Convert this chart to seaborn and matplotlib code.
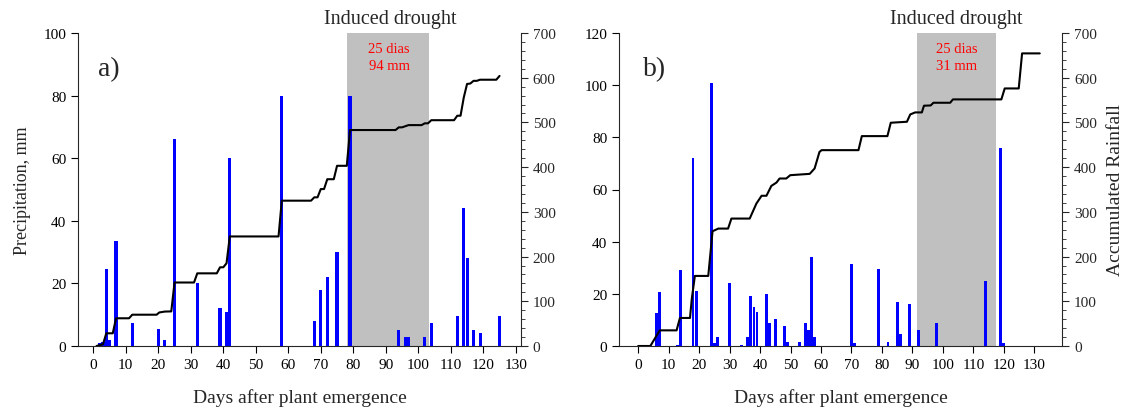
import matplotlib
matplotlib.use("Agg")
import matplotlib.pyplot as plt
from matplotlib.ticker import MultipleLocator
import seaborn as sns

# ---------------- data: panel a ----------------
days_a = [2, 3, 4, 5, 7, 12, 20, 22, 25, 32, 39, 41, 42, 58, 68, 70, 72, 75, 79,
          94, 96, 97, 102, 104, 112, 114, 115, 117, 119, 125]
prec_a = [0.8, 1.2, 24.5, 2, 33.5, 7.5, 5.5, 2, 66, 20, 12, 11, 60, 80, 8, 18, 22, 30, 80,
          5, 3, 3, 3, 7.5, 9.5, 44, 28, 5, 4, 9.5]
line_days_a = [1, 2, 3, 4, 6, 7, 11, 12, 19.5, 20.3, 22, 24, 25, 31, 32, 38, 39, 40, 41, 42,
               57, 58, 67, 68, 69, 70, 71, 72, 74, 75, 78, 79, 93, 94, 95, 97, 101, 102, 103, 104,
               111, 112, 113, 114, 115, 116, 117, 118, 119, 124, 125]
accum_a = [0, 2, 4, 28.4, 28.4, 62, 62, 70, 70, 75, 77, 77.4, 142, 142, 162.5, 162.5, 176, 176, 185, 245,
           245, 325, 325, 332.5, 332.5, 351, 351, 373, 373, 403, 403, 483, 483, 489, 489, 494, 494, 498, 498, 505,
           505, 515, 515, 556, 586, 587, 593, 593, 595.5, 595.5, 604]

# ---------------- data: panel b ----------------
days_b = [6, 7, 13, 14, 18, 19, 24, 25, 26, 30, 34, 36, 37, 38, 39, 42, 43, 45, 48, 49,
          53, 55, 56, 57, 58, 70, 71, 79, 82, 85, 86, 89, 92, 98, 114, 119, 120]
prec_b = [12.8, 20.7, 0.5, 29, 72, 21, 101, 1, 3.5, 24, 0.5, 3.5, 19, 15, 13, 20, 9, 10.5, 7.5, 1.5,
          1.5, 9, 6, 34, 3.5, 31.5, 1, 29.5, 1.5, 17, 4.5, 16, 6, 9, 25, 76, 1]
line_days_b = [0, 4, 5.4, 7.1, 12.6, 13.7, 17, 17.6, 18.6, 23, 24.4, 26.3, 29.5, 30.6, 36.6, 38.8, 40.5,
               42.1, 43.7, 45.4, 46.4, 48.6, 49.9, 56.3, 57.9, 59.5, 60.2, 72.3, 73.4, 81.8, 82.9, 88.2,
               89.3, 90.9, 93.1, 93.8, 96.0, 96.9, 102.4, 103.3, 119.2, 120.3, 124.9, 126.0, 131.8]
accum_b = [0, 0, 16, 35, 35, 62.7, 62.7, 106, 156.7, 156.7, 256.6, 262.6, 262.6, 285, 285, 318.6, 336,
           336, 358, 365.6, 374.6, 374.6, 382, 385, 397, 434, 438, 438, 469.4, 469.4, 499.3, 501.5,
           517.9, 522.4, 522.4, 537.4, 538, 544, 544, 551.5, 551.5, 576, 576, 654.4, 654.4]

drought_a = (78, 103.3)
drought_b = (91.5, 117.3)
drought_text_a = ["25 dias", "94 mm"]
drought_text_b = ["25 dias", "31 mm"]
x_ticks = list(range(0, 131, 10))

sns.set_style("ticks")
plt.rcParams["font.family"] = ["Liberation Serif", "DejaVu Serif"]

W, H = 1128, 414
fig = plt.figure(figsize=(W / 100, H / 100), dpi=100)
axA = fig.add_axes([78 / W, 67 / H, 443 / W, 313 / H])
axB = fig.add_axes([619.3 / W, 67 / H, 443 / W, 313 / H])


def panel(ax, days, prec, ldays, lvals, xlim, ymax, ystep, shade, texts, text_x,
          title_x, letter_x, letter, left_label, right_label):
    ax.axvspan(shade[0], shade[1], color="#c0c0c0", zorder=0, lw=0)
    sns.barplot(x=days, y=prec, native_scale=True, color="#0000ff", saturation=1,
                width=0.95, errorbar=None, ax=ax, linewidth=0, zorder=2)
    ax.set_xlim(*xlim)
    ax.set_ylim(0, ymax)
    ax.set_xticks(x_ticks)
    ax.set_xticklabels([str(t) for t in x_ticks])
    ax.set_yticks(range(0, ymax + 1, ystep))
    ax.tick_params(direction="out", length=5, width=0.8, labelsize=11, colors="black")
    for s in ["top", "right"]:
        ax.spines[s].set_visible(False)
    ax.spines["left"].set_linewidth(0.8)
    ax.spines["bottom"].set_linewidth(0.8)

    ax2 = ax.twinx()
    sns.lineplot(x=ldays, y=lvals, ax=ax2, color="black", linewidth=1.5, zorder=3)
    ax2.set_ylim(0, 700)
    ax2.set_xlim(*xlim)
    ax2.set_yticks(range(0, 701, 100))
    ax2.yaxis.set_minor_locator(MultipleLocator(20))
    ax2.tick_params(which="major", direction="out", length=5, width=0.8, labelsize=11)
    ax2.tick_params(which="minor", direction="out", length=3, width=0.6)
    for s in ["top", "left", "bottom"]:
        ax2.spines[s].set_visible(False)
    ax2.spines["right"].set_linewidth(0.8)

    ax.set_xlabel("Days after plant emergence", fontsize=14, va="center")
    ax.xaxis.set_label_coords(0.5, -0.163)
    if left_label:
        ax.set_ylabel(left_label, fontsize=13, va="center", ha="center")
        ax.yaxis.set_label_coords(-0.126, 0.5)
    else:
        ax.set_ylabel("")
    if right_label:
        ax2.set_ylabel(right_label, fontsize=14, va="center", ha="center", rotation=90)
        ax2.yaxis.set_label_coords(1.119, 0.5)
    else:
        ax2.set_ylabel("")

    tr = ax.get_xaxis_transform()
    ax.text(title_x, 1.045, "Induced drought", transform=tr, ha="center", va="center",
            fontsize=14.5)
    ax.text(text_x, 0.949, texts[0], transform=tr, ha="center", va="center",
            fontsize=10.5, color="red", zorder=5)
    ax.text(text_x, 0.895, texts[1], transform=tr, ha="center", va="center",
            fontsize=10.5, color="red", zorder=5)
    ax.text(letter_x, 0.885, letter, transform=tr, ha="left", va="center", fontsize=20)
    return ax2


panel(axA, days_a, prec_a, line_days_a, accum_a, (-4.7, 131.6), 100, 20, drought_a,
      drought_text_a, 91, 91.4, 1.4, "a)", "Precipitation, mm", None)
panel(axB, days_b, prec_b, line_days_b, accum_b, (-6.2, 139.2), 120, 20, drought_b,
      drought_text_b, 104.6, 104.4, 1.5, "b)", None, "Accumulated Rainfall")

fig.savefig("out.png", dpi=100)
